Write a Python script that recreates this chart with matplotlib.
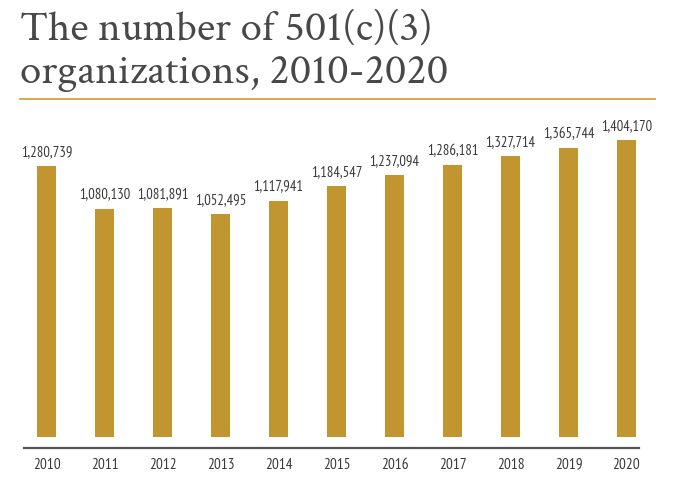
import matplotlib
matplotlib.use("Agg")
import matplotlib.pyplot as plt
from matplotlib.lines import Line2D

years = ["2010", "2011", "2012", "2013", "2014", "2015", "2016", "2017", "2018", "2019", "2020"]
counts = [1280739, 1080130, 1081891, 1052495, 1117941, 1184547, 1237094, 1286181, 1327714, 1365744, 1404170]
title_lines = ["The number of 501(c)(3)", "organizations, 2010-2020"]

BAR = "#C19630"
GOLD = "#D6A23C"
TITLE_C = "#484848"
SERIF = ["Crimson Text", "Liberation Serif", "DejaVu Serif"]
NARROW = ["PT Sans Narrow", "DejaVu Sans"]

W, H = 675, 493
fig = plt.figure(figsize=(W / 100, H / 100), dpi=100)

# title, two lines placed on their baselines
for line, base in zip(title_lines, [40, 83]):
    fig.text(20 / W, 1 - base / H, line, family=SERIF, fontsize=31,
             color=TITLE_C, ha="left", va="baseline")

# gold rule under the title
fig.add_artist(Line2D([20 / W, 655 / W], [1 - 99 / H, 1 - 99 / H],
                      color=GOLD, lw=1.3, transform=fig.transFigure))

ax = fig.add_axes([24 / W, 1 - 448 / H, 615 / W, 343 / H])
x = range(len(years))
ax.bar(x, counts, width=0.33, color=BAR)
ax.set_xlim(-0.388, 10.216)
ax.set_ylim(-52000, 1569700)

for i, v in zip(x, counts):
    ax.annotate(f"{v:,}", (i, v), xytext=(0, 5), textcoords="offset points",
                ha="center", va="bottom", fontsize=10.5, color="#3a3a3a", family=NARROW)

for s in ["top", "left", "right"]:
    ax.spines[s].set_visible(False)
ax.spines["bottom"].set_color("#555555")
ax.spines["bottom"].set_linewidth(1.6)
ax.set_yticks([])
ax.set_xticks(list(x))
ax.set_xticklabels(years, family=NARROW, fontsize=11, color="#3a3a3a")
ax.tick_params(axis="x", length=0, pad=7)

fig.savefig("out.png", dpi=100)
